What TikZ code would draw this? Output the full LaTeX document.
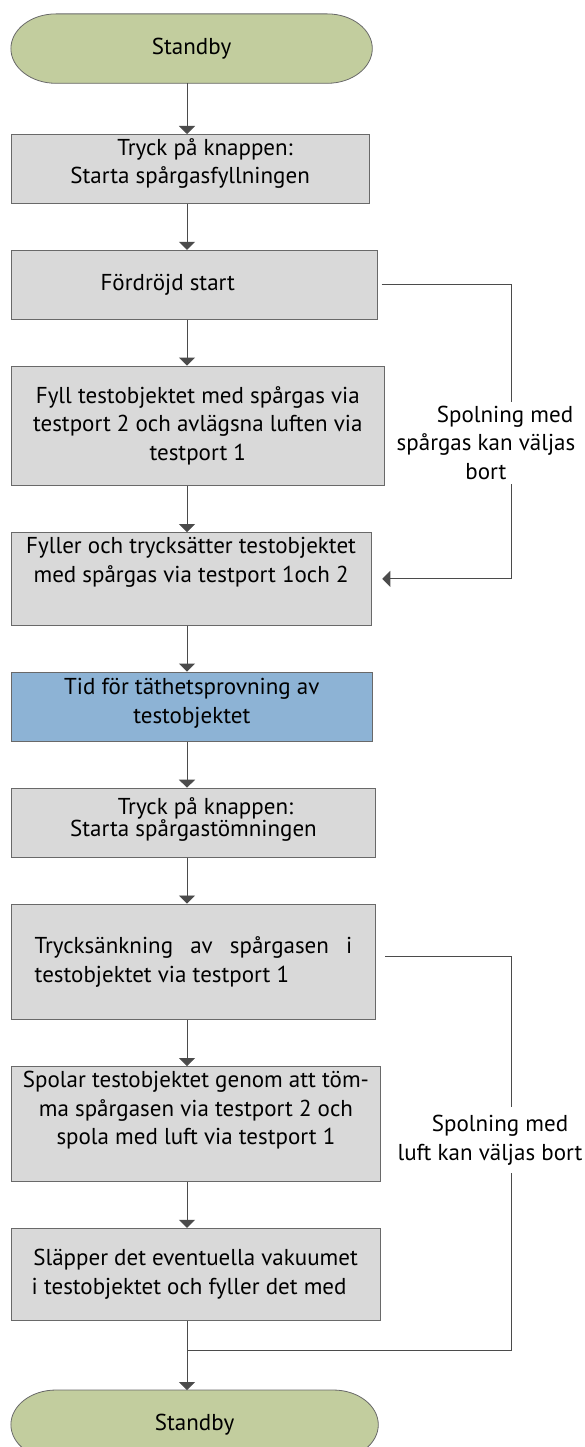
\documentclass[tikz,border=0pt]{standalone}
\usepackage{fontspec}
\setmainfont{PT Sans}
\usetikzlibrary{positioning,arrows.meta,backgrounds}

\definecolor{boxgray}{RGB}{217,217,217}
\definecolor{edgegray}{RGB}{105,105,105}
\definecolor{linegray}{RGB}{75,75,75}
\definecolor{standbygreen}{RGB}{194,205,158}
\definecolor{testblue}{RGB}{141,179,213}

\begin{document}
\begin{tikzpicture}[x=1pt,y=-1pt,node distance=46pt,
  every node/.style={font=\fontsize{23}{28.5}\selectfont},
  stepbox/.style={rectangle,draw=edgegray,fill=boxgray,line width=0.8pt,
    align=center,inner sep=0pt,minimum height=69pt},
  terminal/.style={inner sep=0pt,minimum width=361pt,minimum height=69pt},
  note/.style={fill=white,align=center,inner xsep=2pt,inner ysep=4pt},
  line/.style={draw=linegray,line width=0.8pt},
  flow/.style={line,-{Triangle[width=16pt,length=8pt]}}]

  \useasboundingbox (0,0) rectangle (584,1447);

  \coordinate (ax) at (187,0);
  \coordinate (bx) at (511,0);

  \node[terminal] (s1) at (191.6,48.6) {Standby};
  \node[stepbox,minimum width=357.6pt,below=50.7pt of s1.south west,anchor=north west] (b1)
    {\rule{30pt}{0pt}Tryck på knappen:\\Starta spårgasfyllningen\rule[-15.5pt]{0pt}{15.5pt}};
  \node[stepbox,minimum width=366pt,below=of b1.south west,anchor=north west] (b2)
    {Fördröjd start\rule{53pt}{0pt}};
  \node[stepbox,minimum width=373pt,minimum height=119.7pt,below=of b2.south west,anchor=north west] (b3)
    {Fyll testobjektet med spårgas via\\testport 2 och avlägsna luften via\\testport 1};
  \node[stepbox,minimum width=359.6pt,minimum height=92.7pt,below=of b3.south west,anchor=north west] (b4)
    {Fyller och trycksätter testobjektet\\med spårgas via testport 1och 2\rule[-38pt]{0pt}{38pt}};
  \node[stepbox,fill=testblue,minimum width=361pt,minimum height=69.3pt,below=of b4.south west,anchor=north west] (b5)
    {Tid för täthetsprovning av\\testobjektet\rule[-12pt]{0pt}{12pt}};
  \node[stepbox,minimum width=364.4pt,below=of b5.south west,anchor=north west] (b6)
    {\rule{24pt}{0pt}Tryck på knappen:\\[-6pt]Starta spårgastömningen\rule[-11pt]{0pt}{11pt}};
  \node[stepbox,minimum width=364.4pt,minimum height=115.7pt,text width=317.6pt,align=justify,
    below=of b6.south west,anchor=north west] (b7)
    {Trycksänkning av spårgasen i\linebreak testobjektet via testport 1};
  \node[stepbox,minimum width=369.3pt,minimum height=115pt,below=of b7.south west,anchor=north west] (b8)
    {Spolar testobjektet genom att töm-\\ma spårgasen via testport 2 och\\spola med luft via testport 1\rule[-31.5pt]{0pt}{31.5pt}};
  \node[stepbox,minimum width=368.6pt,minimum height=92.4pt,below=of b8.south west,anchor=north west] (b9)
    {Släpper det eventuella vakuumet\\i testobjektet och fyller det med\rule{13pt}{0pt}};
  \node[terminal,minimum width=367pt,below=69pt of b9.south west,anchor=north west] (s2) {Standby};

  % terminal shapes behind the text
  \begin{scope}[on background layer]
    \foreach \s in {s1,s2}
      \draw[draw=edgegray,fill=standbygreen,line width=0.8pt]
        ([xshift=45pt]\s.north west) -- ([xshift=-45pt]\s.north east)
        .. controls +(24.9,0) and +(0,-19) .. (\s.east)
        .. controls +(0,19) and +(24.9,0) .. ([xshift=-45pt]\s.south east)
        -- ([xshift=45pt]\s.south west)
        .. controls +(-24.9,0) and +(0,19) .. (\s.west)
        .. controls +(0,-19) and +(-24.9,0) .. ([xshift=45pt]\s.north west) -- cycle;
  \end{scope}

  % main flow
  \foreach \a/\b in {s1/b1,b1/b2,b2/b3,b3/b4,b4/b5,b5/b6,b6/b7,b7/b8,b8/b9}
    \draw[flow] (\a.south -| ax) -- (\b.north -| ax);
  \path (b9.south -| ax) ++(0,29.3) coordinate (m);
  \draw[line] (b9.south -| ax) -- (m);
  \draw[flow] (m) -- (s2.north -| ax);

  % bypass lines
  \draw[flow,shorten <=4pt,shorten >=11pt] (b2.east) -- (b2.east -| bx) -- (b4.east -| bx) -- (b4.east);
  \draw[line,shorten <=9pt] ([yshift=5pt]b7.east) -- ([yshift=5pt]b7.east -| bx) -- (m -| bx) -- (m);

  \node[note] (n1) at (486,442.7) {\rule{38pt}{0pt}Spolning med\\spårgas kan väljas\\bort};
  \node[note,inner ysep=8pt] (n2) at (490,1140) {\rule{20pt}{0pt}Spolning med\\luft kan väljas bort};
\end{tikzpicture}
\end{document}
